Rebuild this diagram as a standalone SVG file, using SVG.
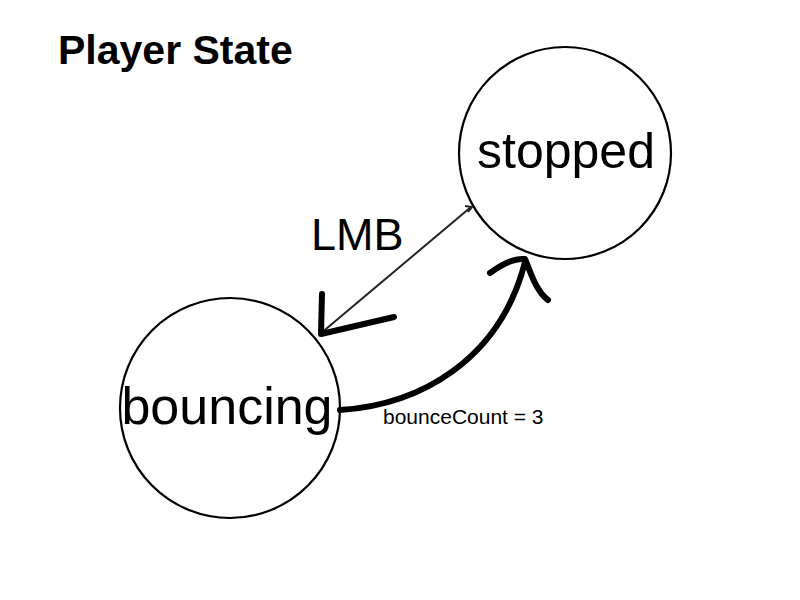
<svg xmlns="http://www.w3.org/2000/svg" width="800" height="600" viewBox="0 0 800 600">
<style>
.node{fill:#fff;stroke:#000;stroke-width:2.2}
.lbl{font-family:"Liberation Sans",Arial,sans-serif;fill:#000}
.thin{fill:none;stroke:#222;stroke-width:2}
.thick{fill:none;stroke:#000;stroke-width:6;stroke-linecap:round;stroke-linejoin:round}
</style>
<rect width="800" height="600" fill="#fff"/>
<text class="lbl" x="58" y="64" font-size="41" font-weight="bold">Player State</text>
<g id="stopped">
<circle class="node" cx="565" cy="153" r="106"/>
<text class="lbl" x="566" y="168" font-size="50" text-anchor="middle">stopped</text>
</g>
<g id="bouncing">
<circle class="node" cx="230" cy="408" r="110"/>
<text class="lbl" x="227" y="424" font-size="52" text-anchor="middle">bouncing</text>
</g>
<g id="connectors">
<path class="thin" d="M471,207 L320,334"/>
<path class="thin" d="M465,206 L472,207 L468,212"/>
<path class="thick" d="M322,294 L321,334 L394,317"/>
<path class="thick" d="M340,410 C420,405 500,360 525,262"/>
<path class="thick" d="M490,273 C505,262 515,258 525,259 C530,270 535,290 548,300"/>
<text class="lbl" x="311" y="250" font-size="45">LMB</text>
<text class="lbl" x="383" y="424" font-size="21">bounceCount = 3</text>
</g>
</svg>
